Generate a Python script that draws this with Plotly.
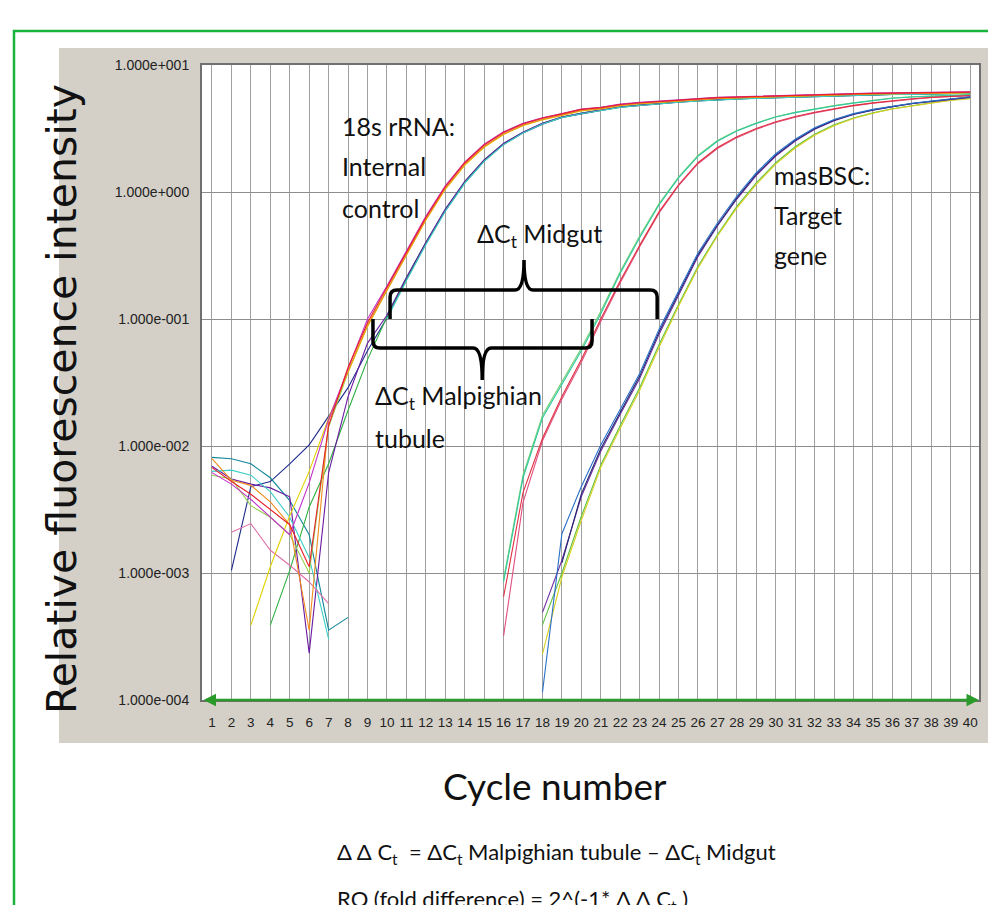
import math
import plotly.graph_objects as go

cycles = list(range(1, 41))
N = None

# ---------------- 18S rRNA (internal control) : Malpighian tubule wells ----------------
rrna_mt_red = [6.76e-3, 5.25e-3, 4.17e-3, 3.16e-3, 2.4e-3, 1.12e-3, 0.0145, 0.0417, 0.0933,
               0.178, 0.338, 0.63, 1.1, 1.7, 2.35, 2.95, 3.45, 3.82, 4.12, 4.47, 4.62, 4.88, 5.05, 5.17, 5.29,
               5.41, 5.53, 5.59, 5.65, 5.72, 5.78, 5.85, 5.91, 5.93, 5.98, 6.0, 6.05, 6.06, 6.08, 6.12]
rrna_mt_orange = [7.94e-3, 5.37e-3, 4.9e-3, 3.63e-3, 2.4e-3, 3.55e-4, 0.0158, 0.0389, 0.0891,
                  0.17, 0.324, 0.605, 1.06, 1.64, 2.27, 2.86, 3.35, 3.72, 4.03, 4.38, 4.53, 4.8, 4.97, 5.09, 5.21,
                  5.33, 5.46, 5.52, 5.58, 5.65, 5.71, 5.78, 5.85, 5.86, 5.93, 5.94, 6.0, 6.01, 6.02, 6.08]
rrna_mt_yellow = [N, N, 3.89e-4, 1.12e-3, 2.82e-3, 6.31e-3, 0.0166, 0.038, 0.0871,
                  0.168, 0.32, 0.6, 1.05, 1.62, 2.25, 2.84, 3.32, 3.7, 4.0, 4.35, 4.5, 4.78, 4.95, 5.07, 5.2,
                  5.32, 5.45, 5.51, 5.57, 5.64, 5.7, 5.77, 5.84, 5.85, 5.92, 5.93, 5.99, 6.0, 6.01, 6.06]
rrna_mt_magenta = [6.17e-3, 5.01e-3, 3.8e-3, 2.75e-3, 2.0e-3, 5.13e-3, 0.0162, 0.0407, 0.1,
                   0.182, 0.345, 0.645, 1.12, 1.72, 2.38, 2.98, 3.47, 3.84, 4.15, 4.5, 4.65, 4.92, 5.08, 5.2, 5.32,
                   5.44, 5.56, 5.62, 5.68, 5.75, 5.81, 5.88, 5.94, 5.95, 6.02, 6.03, 6.08, 6.1, 6.11, 6.15]
rrna_mt_pink = [N, 2.09e-3, 2.45e-3, 1.51e-3, 1.15e-3, 8.5e-4, 5.75e-4, N, N,
                0.176, 0.334, 0.62, 1.09, 1.68, 2.32, 2.92, 3.42, 3.79, 4.1, 4.45, 4.6, 4.86, 5.03, 5.15, 5.27,
                5.39, 5.52, 5.58, 5.64, 5.71, 5.77, 5.84, 5.9, 5.91, 5.97, 5.98, 6.04, 6.05, 6.06, 6.1]
rrna_mt_lime = [5.89e-3, 5.5e-3, 3.39e-3, 2.75e-3, 2.0e-3, 1.0e-3, 0.0141, 0.038, 0.0891,
                0.172, 0.328, 0.61, 1.07, 1.65, 2.28, 2.88, 3.37, 3.74, 4.05, 4.4, 4.55, 4.82, 4.99, 5.11, 5.23,
                5.35, 5.48, 5.54, 5.6, 5.67, 5.73, 5.8, 5.87, 5.88, 5.95, 5.95, 6.02, 6.02, 6.03, 6.09]

# ---------------- 18S rRNA (internal control) : Midgut wells ----------------
rrna_mg_navy = [N, 1.05e-3, 4.79e-3, 5.25e-3, 7.24e-3, 0.0102, 0.017, 0.0288, 0.0562,
                0.102, 0.204, 0.39, 0.71, 1.18, 1.75, 2.37, 2.92, 3.42, 3.86, 4.14, 4.39, 4.65, 4.81, 4.98, 5.1,
                5.22, 5.34, 5.4, 5.47, 5.53, 5.59, 5.66, 5.72, 5.73, 5.8, 5.86, 5.87, 5.93, 5.94, 6.0]
rrna_mg_teal = [8.13e-3, 7.94e-3, 7.24e-3, 5.62e-3, 3.72e-3, 2.0e-3, 3.55e-4, 4.47e-4, N,
                0.107, 0.212, 0.4, 0.73, 1.21, 1.79, 2.41, 2.96, 3.48, 3.9, 4.18, 4.43, 4.69, 4.85, 5.02, 5.14,
                5.26, 5.38, 5.44, 5.51, 5.57, 5.63, 5.7, 5.76, 5.76, 5.83, 5.9, 5.9, 5.97, 5.97, 6.04]
rrna_mg_green = [N, N, N, 3.89e-4, 1.05e-3, 3.31e-3, 7.24e-3, 0.0191, 0.0479,
                 0.104, 0.207, 0.395, 0.72, 1.19, 1.77, 2.39, 2.94, 3.45, 3.87, 4.15, 4.4, 4.66, 4.82, 4.99, 5.11,
                 5.23, 5.35, 5.41, 5.48, 5.54, 5.6, 5.67, 5.73, 5.74, 5.81, 5.87, 5.88, 5.94, 5.95, 6.01]
rrna_mg_purple = [6.92e-3, 5.5e-3, 5.01e-3, 4.68e-3, 3.98e-3, 2.34e-4, 6.17e-3, 0.0245, 0.0646,
                  0.107, 0.211, 0.4, 0.73, 1.21, 1.79, 2.41, 2.96, 3.48, 3.9, 4.18, 4.43, 4.69, 4.85, 5.02, 5.14,
                  5.26, 5.38, 5.44, 5.51, 5.57, 5.63, 5.7, 5.76, 5.77, 5.83, 5.9, 5.91, 5.97, 5.98, 6.05]
rrna_mg_cyan = [6.31e-3, 6.46e-3, 5.89e-3, 4.37e-3, 2.75e-3, 1.32e-3, 3.02e-4, N, N,
                0.1, 0.2, 0.385, 0.705, 1.17, 1.74, 2.36, 2.91, 3.43, 3.85, 4.13, 4.38, 4.64, 4.8, 4.97, 5.09,
                5.21, 5.33, 5.39, 5.46, 5.52, 5.58, 5.65, 5.71, 5.72, 5.79, 5.85, 5.86, 5.92, 5.93, 5.99]

# ---------------- masBSC (target gene) : Malpighian tubule wells ----------------
bsc_mt_teal = [N] * 15 + [8.5e-4, 5.6e-3, 0.0166, 0.0302, 0.0562, 0.11, 0.229, 0.437, 0.794, 1.29,
                          1.91, 2.51, 3.02, 3.47, 3.89, 4.22, 4.5, 4.76, 5.01, 5.25, 5.47, 5.6, 5.69, 5.75, 5.82]
bsc_mt_red = [N] * 15 + [6.5e-4, 4.3e-3, 0.0115, 0.0245, 0.0479, 0.1, 0.2, 0.38, 0.7, 1.14,
                         1.7, 2.24, 2.72, 3.16, 3.58, 3.93, 4.25, 4.55, 4.81, 5.03, 5.25, 5.43, 5.56, 5.69, 5.75]
bsc_mt_magenta = [N] * 15 + [3.2e-4, 3.6e-3, 0.011, 0.0234, 0.0457, 0.096, 0.193, 0.37, 0.685, 1.12,
                             1.67, 2.2, 2.68, 3.12, 3.53, 3.88, 4.2, 4.5, 4.77, 5.0, 5.2, 5.4, 5.55, 5.65, 5.7]
bsc_mt_green = [N] * 15 + [9.0e-4, 5.9e-3, 0.0174, 0.0316, 0.0589, 0.115, 0.237, 0.45, 0.81, 1.31,
                           1.94, 2.54, 3.05, 3.5, 3.91, 4.25, 4.53, 4.79, 5.04, 5.28, 5.49, 5.63, 5.72, 5.78, 5.85]

# ---------------- masBSC (target gene) : Midgut wells ----------------
bsc_mg_blue = [N] * 17 + [1.15e-4, 2.04e-3, 4.8e-3, 0.0102, 0.0195, 0.0372, 0.0832, 0.166, 0.331, 0.57,
                          0.93, 1.42, 2.0, 2.6, 3.2, 3.72, 4.14, 4.47, 4.76, 5.0, 5.2, 5.42, 5.62]
bsc_mg_navy = [N] * 18 + [1.2e-3, 4.2e-3, 9.5e-3, 0.0186, 0.0355, 0.0794, 0.16, 0.32, 0.55,
                          0.9, 1.38, 1.95, 2.55, 3.15, 3.67, 4.1, 4.43, 4.72, 4.97, 5.18, 5.4, 5.6]
bsc_mg_purple = [N] * 17 + [4.9e-4, 1.26e-3, 4.0e-3, 9.1e-3, 0.0178, 0.034, 0.076, 0.155, 0.31, 0.54,
                            0.88, 1.35, 1.92, 2.52, 3.12, 3.64, 4.07, 4.4, 4.7, 4.95, 5.16, 5.37, 5.55]
bsc_mg_yellow = [N] * 17 + [2.3e-4, 9.3e-4, 2.6e-3, 6.8e-3, 0.0138, 0.0275, 0.060, 0.126, 0.251, 0.45,
                            0.75, 1.15, 1.66, 2.22, 2.8, 3.33, 3.79, 4.17, 4.5, 4.77, 5.01, 5.25, 5.43]
bsc_mg_green = [N] * 17 + [3.9e-4, 1.0e-3, 2.8e-3, 7.1e-3, 0.0145, 0.0288, 0.063, 0.13, 0.26, 0.46,
                           0.77, 1.18, 1.7, 2.27, 2.85, 3.38, 3.83, 4.2, 4.53, 4.8, 5.05, 5.3, 5.5]

y_tickvals = [1e-4, 1e-3, 1e-2, 1e-1, 1e0, 1e1]
y_ticktext = ["1.000e-004", "1.000e-003", "1.000e-002", "1.000e-001", "1.000e+000", "1.000e+001"]
x_ticktext = [str(c) for c in cycles]

series = [
    (rrna_mg_navy, "#1c2a8c"), (rrna_mg_teal, "#12879a"), (rrna_mg_green, "#2fb040"),
    (rrna_mg_purple, "#6a1aa0"), (rrna_mg_cyan, "#3ccfc6"),
    (rrna_mt_lime, "#98d050"), (rrna_mt_pink, "#e070a8"), (rrna_mt_yellow, "#e2d200"),
    (rrna_mt_orange, "#f08c1e"), (rrna_mt_magenta, "#c030c8"), (rrna_mt_red, "#e8202a"),
    (bsc_mt_green, "#70d070"), (bsc_mt_teal, "#30c8a0"), (bsc_mt_magenta, "#e05080"), (bsc_mt_red, "#e03040"),
    (bsc_mg_green, "#60c040"), (bsc_mg_yellow, "#d8d020"), (bsc_mg_purple, "#7030a0"),
    (bsc_mg_navy, "#202870"), (bsc_mg_blue, "#2a70c8"),
]
for s, _ in series:
    assert len(s) == 40, len(s)

# ---------------- layout geometry ----------------
W, H = 988, 905
ML, MR, MT, MB = 202, 9, 65, 205
PW, PH = W - ML - MR, H - MT - MB
XR = [0.486, 40.455]
YR = [-4, 1]

def paper_x(px):
    return (px - ML) / PW

def paper_y(py):
    return (H - MB - py) / PH

fig = go.Figure()
for vals, col in series:
    fig.add_trace(go.Scatter(x=cycles, y=vals, mode="lines", connectgaps=False,
                             line=dict(color=col, width=1.1), hoverinfo="skip", showlegend=False))

# ---------------- braces (ΔCt brackets), in data units: cycle / log10 intensity ----------------
brace_midgut = dict(xl=10.16, xr=23.9, xt=17.05, yb=-0.772, ye=-1.0, yt=-0.535)
brace_malp = dict(xl=9.28, xr=20.55, xt=14.9, yb=-1.228, ye=-1.0, yt=-1.48)

def brace_path(xl, xr, xt, yb, ye, yt):
    X = lambda c: (c - XR[0]) / (XR[1] - XR[0])
    Y = lambda v: (v - YR[0]) / (YR[1] - YR[0])
    rx, ry = 7 / PW, 7 / PH
    tx = 9 / PW
    s = 1 if ye > yb else -1
    a, b, t = X(xl), X(xr), X(xt)
    yb_, ye_, yt_ = Y(yb), Y(ye), Y(yt)
    p = f"M {a},{ye_} L {a},{yb_ + s * ry} Q {a},{yb_} {a + rx},{yb_} "
    p += f"L {t - tx},{yb_} Q {t},{yb_} {t},{yt_} Q {t},{yb_} {t + tx},{yb_} "
    p += f"L {b - rx},{yb_} Q {b},{yb_} {b},{yb_ + s * ry} L {b},{ye_}"
    return p

shapes = [
    # grey instrument-software panel
    dict(type="rect", xref="paper", yref="paper", x0=paper_x(59), x1=paper_x(W + 5),
         y0=paper_y(743), y1=paper_y(48), fillcolor="#d4d0c8", line=dict(width=0), layer="below"),
    # white plotting area
    dict(type="rect", xref="paper", yref="paper", x0=0, x1=1, y0=0, y1=1,
         fillcolor="white", line=dict(width=0), layer="below"),
    # green frame of the slide
    dict(type="rect", xref="paper", yref="paper", x0=paper_x(14), x1=paper_x(W + 10),
         y0=paper_y(H + 10), y1=paper_y(31), fillcolor="rgba(0,0,0,0)",
         line=dict(color="#19b43c", width=2.5), layer="above"),
    dict(type="path", xref="paper", yref="paper", path=brace_path(**brace_midgut),
         line=dict(color="black", width=3.5), layer="above"),
    dict(type="path", xref="paper", yref="paper", path=brace_path(**brace_malp),
         line=dict(color="black", width=3.5), layer="above"),
]

LBL = dict(family="Lato, Open Sans, sans-serif", size=25, color="#111111")
labels = [
    ("18s rRNA:", 7.58, 3.31), ("Internal", 7.58, 1.60), ("control", 7.58, 0.748),
    ("ΔC<sub>t</sub> Midgut", 14.53, 0.458),
    ("ΔC<sub>t</sub> Malpighian", 9.28, 0.0243), ("tubule", 9.28, 0.01156),
    ("masBSC:", 29.8, 1.36), ("Target", 29.8, 0.659), ("gene", 29.8, 0.319),
]
annotations = []
for txt, cx, cy in labels:
    annotations.append(dict(text=txt, x=cx, y=math.log10(cy), xref="x", yref="y",
                            xanchor="left", yanchor="middle", showarrow=False, font=LBL))

# green baseline arrow along the cycle axis
annotations.append(dict(text="", x=XR[1], y=YR[0], ax=XR[0], ay=YR[0], xref="x", yref="y",
                        axref="x", ayref="y", showarrow=True, arrowside="end+start",
                        arrowhead=2, arrowsize=1.0, arrowwidth=2.5, arrowcolor="#2a9a2a"))

annotations.append(dict(text="Relative fluorescence intensity", xref="paper", yref="paper",
                        x=paper_x(62), y=paper_y(399), textangle=-90, showarrow=False,
                        xanchor="center", yanchor="middle",
                        font=dict(family="DejaVu Sans, Verdana, sans-serif", size=41, color="#111111")))
annotations.append(dict(text="Cycle number", xref="paper", yref="paper",
                        x=paper_x(555), y=paper_y(785), showarrow=False,
                        xanchor="center", yanchor="middle",
                        font=dict(family="Lato, Open Sans, sans-serif", size=37, color="#111111")))
FORM = dict(family="Lato, Open Sans, sans-serif", size=22, color="#111111")
annotations.append(dict(text="Δ Δ C<sub>t</sub>\u00a0 = ΔC<sub>t</sub> Malpighian tubule – ΔC<sub>t</sub> Midgut",
                        xref="paper", yref="paper", x=paper_x(335), y=paper_y(853), showarrow=False,
                        xanchor="left", yanchor="middle", font=FORM))
annotations.append(dict(text="RQ (fold difference) = 2^(-1* Δ Δ C<sub>t</sub> )",
                        xref="paper", yref="paper", x=paper_x(335), y=paper_y(900), showarrow=False,
                        xanchor="left", yanchor="middle", font=FORM))

fig.update_layout(
    template="none",
    width=W, height=H, autosize=False,
    margin=dict(l=ML, r=MR, t=MT, b=MB, pad=0),
    paper_bgcolor="white", plot_bgcolor="white",
    showlegend=False,
    shapes=shapes, annotations=annotations,
    xaxis=dict(range=XR, tickmode="array", tickvals=cycles, ticktext=x_ticktext,
               showgrid=True, gridcolor="#a0a0a0", gridwidth=1, zeroline=False,
               showline=True, linecolor="#707070", linewidth=2, mirror=True, ticks="",
               ticklabelstandoff=9,
               tickfont=dict(family="Liberation Sans Narrow, Arial Narrow, Liberation Sans, Arial",
                             size=13.5, color="#222222")),
    yaxis=dict(type="log", range=YR, tickmode="array", tickvals=y_tickvals, ticktext=y_ticktext,
               showgrid=True, gridcolor="#8e8e8e", gridwidth=1, zeroline=False,
               showline=True, linecolor="#707070", linewidth=2, mirror=True, ticks="",
               ticklabelstandoff=8,
               tickfont=dict(family="Liberation Sans, Arial", size=14, color="#222222")),
)

fig.write_html("out.html", config={"displayModeBar": False},
               post_script="document.body.style.margin='0px';document.body.style.padding='0px';")
